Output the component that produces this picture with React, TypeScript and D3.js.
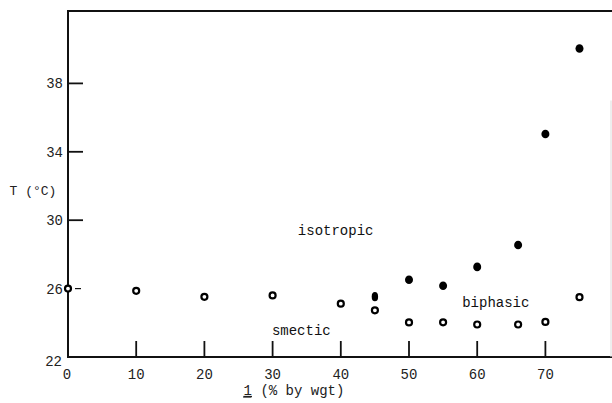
import React, { useRef, useEffect } from "react";
import * as d3 from "d3";

// smectic -> biphasic boundary (open circles)
const smecticX = [0, 10, 20, 30, 40, 45, 50, 55, 60, 66, 70, 75];
const smecticY = [26.0, 25.87, 25.52, 25.6, 25.12, 24.73, 24.02, 24.03, 23.9, 23.9, 24.05, 25.5];

// biphasic -> isotropic boundary (filled circles)
const isoX = [45, 50, 55, 60, 66, 70, 75];
const isoY = [25.53, 26.52, 26.17, 27.27, 28.55, 35.04, 40.04];

const xTicks = [0, 10, 20, 30, 40, 50, 60, 70];
const yTicks = [22, 26, 30, 34, 38];

const regionLabels = [
  { text: "isotropic", x: 33.7, y: 29.45 },
  { text: "biphasic", x: 57.8, y: 25.2 },
  { text: "smectic", x: 29.9, y: 23.55 }
];

const App = () => {
  const ref = useRef<SVGSVGElement>(null);

  useEffect(() => {
    const width = 612;
    const height = 403;
    const font = "'Liberation Mono', 'DejaVu Sans Mono', monospace";

    const x = d3.scaleLinear().domain([0, 80]).range([68, 613.6]);
    const y = d3.scaleLinear().domain([22, 42]).range([357, 15]);
    const yTop = y(42.23);

    const svg = d3.select(ref.current);
    svg.selectAll("*").remove();
    svg.attr("width", width).attr("height", height);

    svg.append("rect").attr("width", width).attr("height", height).attr("fill", "#fff");

    // frame: left axis, bottom axis, top line
    svg
      .append("path")
      .attr("d", `M${x(80)},${yTop} H${x(0)} V${y(22)} H${x(80)}`)
      .attr("fill", "none")
      .attr("stroke", "#111")
      .attr("stroke-width", 2);

    // faint right edge
    svg
      .append("line")
      .attr("x1", 611)
      .attr("x2", 611)
      .attr("y1", y(37))
      .attr("y2", y(22))
      .attr("stroke", "#ddd")
      .attr("stroke-width", 1);

    // x ticks (pointing up into plot)
    svg
      .selectAll(".xtick")
      .data(xTicks.filter(d => d > 0))
      .enter()
      .append("line")
      .attr("x1", d => x(d))
      .attr("x2", d => x(d))
      .attr("y1", y(22))
      .attr("y2", y(22) - 16)
      .attr("stroke", "#111")
      .attr("stroke-width", 1.8);

    svg
      .selectAll(".xlab")
      .data(xTicks)
      .enter()
      .append("text")
      .attr("x", d => x(d) - (d === 0 ? 1 : 0))
      .attr("y", 374)
      .attr("dy", "0.35em")
      .attr("text-anchor", "middle")
      .attr("font-family", font)
      .attr("font-size", 14)
      .attr("fill", "#222")
      .text(d => d);

    // y ticks (pointing right)
    svg
      .selectAll(".ytick")
      .data(yTicks.filter(d => d > 22))
      .enter()
      .append("line")
      .attr("x1", d => (d === 26 ? x(0) + 7 : x(0)))
      .attr("x2", d => x(0) + (d === 26 ? 13 : 15))
      .attr("y1", d => y(d))
      .attr("y2", d => y(d))
      .attr("stroke", "#111")
      .attr("stroke-width", d => (d === 26 ? 1.2 : 1.8));

    svg
      .selectAll(".ylab")
      .data(yTicks)
      .enter()
      .append("text")
      .attr("x", d => (d === 22 ? 62 : 63))
      .attr("y", d => (d === 22 ? y(d) + 4 : y(d)))
      .attr("dy", "0.35em")
      .attr("text-anchor", "end")
      .attr("font-family", font)
      .attr("font-size", 14)
      .attr("fill", "#222")
      .text(d => d);

    // axis titles
    svg
      .append("text")
      .attr("x", 33)
      .attr("y", 190)
      .attr("dy", "0.35em")
      .attr("text-anchor", "middle")
      .attr("font-family", font)
      .attr("font-size", 13)
      .attr("fill", "#222")
      .text("T (°C)");

    const xTitle = svg
      .append("text")
      .attr("x", 294)
      .attr("y", 390)
      .attr("dy", "0.35em")
      .attr("text-anchor", "middle")
      .attr("font-family", font)
      .attr("font-size", 14)
      .attr("fill", "#222")
      .attr("xml:space", "preserve");
    xTitle.append("tspan").attr("text-decoration", "underline").text("1");
    xTitle.append("tspan").text(" (% by wgt)");
    // underline under the compound number
    svg
      .append("line")
      .attr("x1", 243)
      .attr("x2", 251)
      .attr("y1", 397)
      .attr("y2", 397)
      .attr("stroke", "#222")
      .attr("stroke-width", 1);

    // region labels
    svg
      .selectAll(".region")
      .data(regionLabels)
      .enter()
      .append("text")
      .attr("x", d => x(d.x))
      .attr("y", d => y(d.y))
      .attr("dy", "0.35em")
      .attr("font-family", font)
      .attr("font-size", 14)
      .attr("fill", "#111")
      .text(d => d.text);

    // open circles
    svg
      .selectAll(".open")
      .data(smecticX.map((d, i) => [d, smecticY[i]]))
      .enter()
      .append("circle")
      .attr("cx", d => x(d[0]))
      .attr("cy", d => y(d[1]))
      .attr("r", 3)
      .attr("fill", "#fff")
      .attr("stroke", "#000")
      .attr("stroke-width", 2.2);

    // filled circles
    svg
      .selectAll(".filled")
      .data(isoX.map((d, i) => [d, isoY[i]]))
      .enter()
      .append("ellipse")
      .attr("cx", d => x(d[0]))
      .attr("cy", d => y(d[1]))
      .attr("rx", d => (d[0] === 45 ? 3.2 : 4))
      .attr("ry", d => (d[0] === 45 ? 4.6 : 4.3))
      .attr("fill", "#000");
  }, []);

  return (
    <div style={{ position: "absolute", left: 0, top: 0 }}>
      <svg ref={ref} style={{ display: "block" }} />
    </div>
  );
};

export default App;
